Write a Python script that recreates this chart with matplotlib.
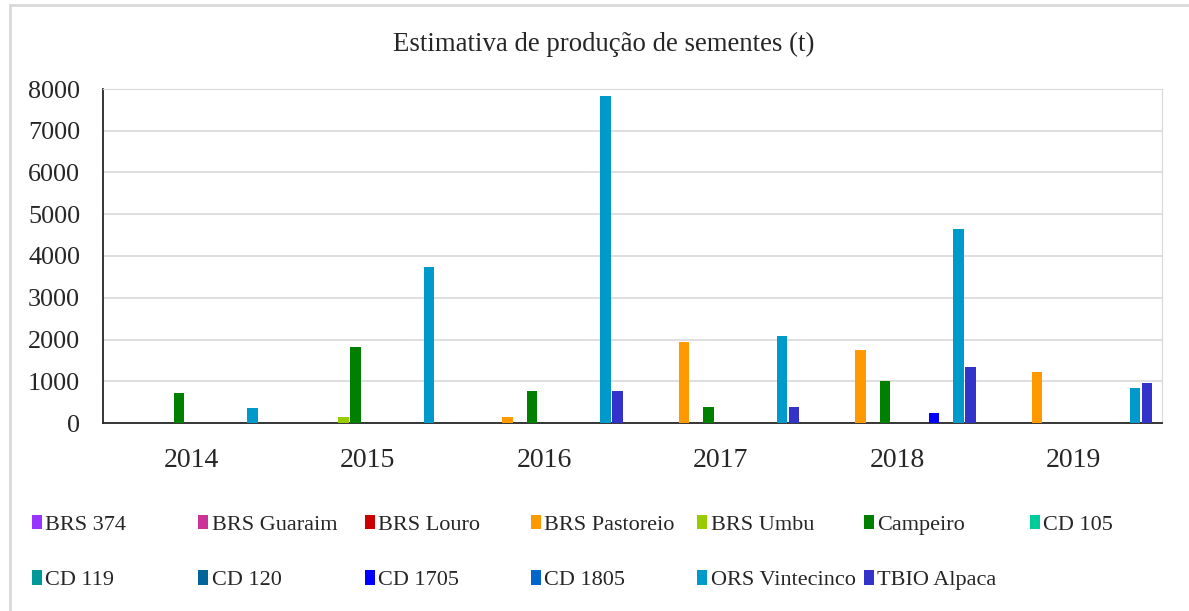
import numpy as np
import matplotlib
matplotlib.use("Agg")
from matplotlib import pyplot as plt
from matplotlib.lines import Line2D

plt.rcParams['font.family'] = ['Liberation Serif', 'DejaVu Serif']

years = ['2014', '2015', '2016', '2017', '2018', '2019']
cultivars = ['BRS 374', 'BRS Guaraim', 'BRS Louro', 'BRS Pastoreio', 'BRS Umbu',
             'Campeiro', 'CD 105', 'CD 119', 'CD 120', 'CD 1705', 'CD 1805',
             'ORS Vintecinco', 'TBIO Alpaca']
colors = ['#9933FF', '#CC3399', '#CC0000', '#FF9900', '#99CC00',
          '#008000', '#00CC99', '#009999', '#006699', '#0000FF', '#0066CC',
          '#0099CC', '#3333CC']

# valores por cultivar, na ordem dos anos
brs_374 = [0, 0, 0, 0, 0, 0]
brs_guaraim = [0, 0, 0, 0, 0, 0]
brs_louro = [0, 0, 0, 0, 0, 0]
brs_pastoreio = [0, 0, 150, 1930, 1750, 1220]
brs_umbu = [0, 150, 0, 0, 0, 0]
campeiro = [710, 1820, 770, 390, 1000, 0]
cd_105 = [0, 0, 0, 0, 0, 0]
cd_119 = [0, 0, 0, 0, 0, 0]
cd_120 = [0, 0, 0, 0, 0, 0]
cd_1705 = [0, 0, 0, 0, 250, 0]
cd_1805 = [0, 0, 0, 0, 0, 0]
ors_vintecinco = [360, 3740, 7840, 2080, 4640, 830]
tbio_alpaca = [0, 0, 770, 390, 1350, 950]

series = [brs_374, brs_guaraim, brs_louro, brs_pastoreio, brs_umbu, campeiro,
          cd_105, cd_119, cd_120, cd_1705, cd_1805, ors_vintecinco, tbio_alpaca]

W, H = 1189, 611
fig = plt.figure(figsize=(W / 100, H / 100), dpi=100)
ax = fig.add_axes([103 / W, 1 - 423 / H, 1059 / W, 334 / H])

n = len(series)
x = np.arange(len(years))
slot = 0.9 / n
handles = []
for i, (vals, name, c) in enumerate(zip(series, cultivars, colors)):
    b = ax.bar(x + (i - (n - 1) / 2) * slot, vals, width=slot * 0.85, color=c,
               label=name, zorder=3)
    handles.append(b)

ax.set_xlim(-0.5, len(years) - 0.5)
ax.set_ylim(0, 8000)
ax.set_yticks(np.arange(0, 8001, 1000))
ax.set_xticks(x)
ax.set_xticklabels(years, fontsize=20)
ax.tick_params(axis='both', length=0, colors='#262626')
ax.tick_params(axis='y', labelsize=18.8, pad=16.5)
ax.tick_params(axis='x', pad=18)
ax.grid(axis='y', color='#D9D9D9', linewidth=1.2, zorder=0)
for s in ['top', 'right']:
    ax.spines[s].set_color('#D9D9D9')
for s in ['left', 'bottom']:
    ax.spines[s].set_color('#262626')
    ax.spines[s].set_linewidth(1.3)

fig.text(0.508, 0.928, 'Estimativa de produção de sementes (t)', ha='center',
         va='center', fontsize=19.3, color='#262626')

# legenda: 7 colunas igualmente espaçadas, preenchidas por linha
ncol = 7
for j in range(ncol):
    idx = [k for k in (j, j + ncol) if k < n]
    leg = fig.legend([handles[k] for k in idx], [cultivars[k] for k in idx],
                     loc='upper left', bbox_to_anchor=((32 + 166.3 * j) / W, 1 - 515 / H),
                     frameon=False, fontsize=16, borderpad=0, borderaxespad=0,
                     handlelength=0.45, handleheight=0.6, handletextpad=0.15,
                     labelspacing=1.6)
    for t in leg.get_texts():
        t.set_color('#262626')

fig.add_artist(Line2D([10 / W, 1], [1 - 5 / H, 1 - 5 / H],
                      transform=fig.transFigure, color='#D9D9D9', linewidth=2))
fig.add_artist(Line2D([10 / W, 10 / W], [0, 1 - 5 / H],
                      transform=fig.transFigure, color='#D9D9D9', linewidth=2))

fig.savefig('out.png', dpi=100)
